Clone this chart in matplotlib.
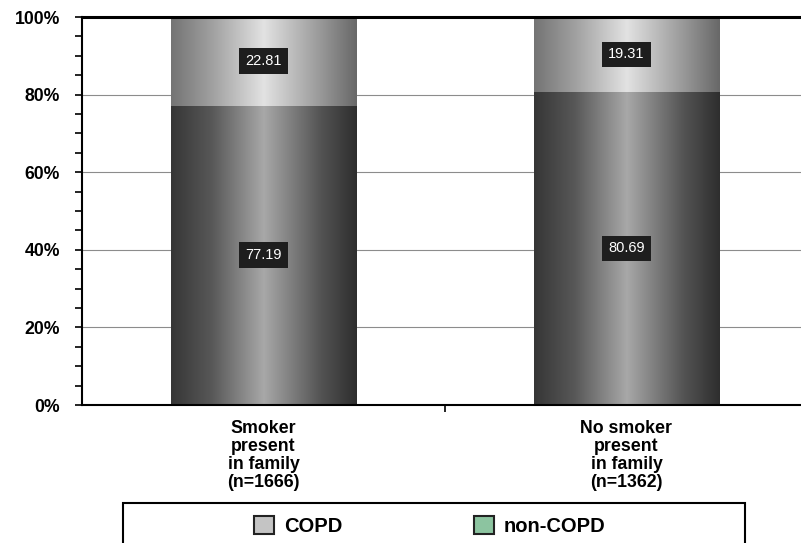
import numpy as np
import matplotlib
matplotlib.use("Agg")
import matplotlib.pyplot as plt
from matplotlib.colors import LinearSegmentedColormap
from matplotlib.patches import Rectangle, Patch

categories = ["Smoker\npresent\nin family\n(n=1666)", "No smoker\npresent\nin family\n(n=1362)"]
non_copd = [77.19, 80.69]
copd = [22.81, 19.31]
yticks = [0, 20, 40, 60, 80, 100]
ytick_labels = ["0%", "20%", "40%", "60%", "80%", "100%"]

plt.rcParams['font.family'] = ['Liberation Sans', 'DejaVu Sans']

fig = plt.figure(figsize=(8.01, 5.43), dpi=100)
ax = fig.add_axes([82/801, 138/543, 726/801, 388/543])

x = np.arange(len(categories))
width = 0.51

dark_cmap = LinearSegmentedColormap.from_list("dark", [
    (0.0, '#363636'), (0.22, '#585858'), (0.5, '#a8a8a8'), (0.8, '#555555'), (1.0, '#2e2e2e')])
light_cmap = LinearSegmentedColormap.from_list("light", [
    (0.0, '#747474'), (0.22, '#a0a0a0'), (0.5, '#e2e2e2'), (0.8, '#9a9a9a'), (1.0, '#686868')])

bars_bottom = ax.bar(x, non_copd, width, color='none', edgecolor='none', zorder=2)
bars_top = ax.bar(x, copd, width, bottom=non_copd, color='none', edgecolor='none', zorder=2)

grad = np.linspace(0, 1, 256).reshape(1, -1)
for bars, cmap in [(bars_bottom, dark_cmap), (bars_top, light_cmap)]:
    for p in bars:
        x0, y0 = p.get_x(), p.get_y()
        w, h = p.get_width(), p.get_height()
        im = ax.imshow(grad, cmap=cmap, aspect='auto', extent=(x0, x0 + w, y0, y0 + h),
                       zorder=2, interpolation='bicubic')
        im.set_clip_path(p)

for bars, vals in [(bars_bottom, non_copd), (bars_top, copd)]:
    for p, v in zip(bars, vals):
        ax.text(p.get_x() + p.get_width() / 2, p.get_y() + p.get_height() / 2, f"{v:.2f}",
                ha='center', va='center', color='white', fontsize=10.5, zorder=4,
                bbox=dict(boxstyle='square,pad=0.4', facecolor='#1e1e1e', edgecolor='none'))

ax.set_xlim(-0.5, 1.5)
ax.set_ylim(0, 100)
ax.set_yticks(yticks)
ax.set_yticklabels(ytick_labels, fontsize=12.7, fontweight='bold')
ax.set_yticks(np.arange(0, 101, 5), minor=True)
ax.tick_params(axis='y', which='both', direction='out', length=5, width=1.2, pad=11)

ax.set_xticks(x)
ax.set_xticklabels(categories, fontsize=12.8, fontweight='bold', linespacing=1.08)
ax.tick_params(axis='x', which='major', length=0, pad=11)
ax.set_xticks([0.5], minor=True)
ax.tick_params(axis='x', which='minor', direction='out', length=5, width=1.2)

ax.yaxis.grid(True, color='#8c8c8c', linewidth=0.8)
ax.set_axisbelow(True)

ax.spines['right'].set_visible(False)
ax.spines['top'].set_linewidth(2.2)
ax.spines['left'].set_linewidth(1.5)
ax.spines['bottom'].set_linewidth(1.5)
for s in ax.spines.values():
    s.set_color('black')

fig.patches.append(Rectangle((123/801, -0.02), 622/801, (40/543) + 0.02,
                             transform=fig.transFigure, fill=False, edgecolor='black',
                             linewidth=1.5))
handles = [Patch(facecolor='#c4c4c4', edgecolor='#222222', linewidth=1.5, label='COPD'),
           Patch(facecolor='#8cc4a0', edgecolor='#222222', linewidth=1.5, label='non-COPD')]
fig.legend(handles=handles, loc='center', bbox_to_anchor=(430/801, 17/543), ncol=2,
           frameon=False, prop={'weight': 'bold', 'size': 14.5},
           handlelength=1.0, handleheight=1.0, handletextpad=0.5, columnspacing=6.5,
           borderpad=0)

fig.savefig("out.png", dpi=100)
